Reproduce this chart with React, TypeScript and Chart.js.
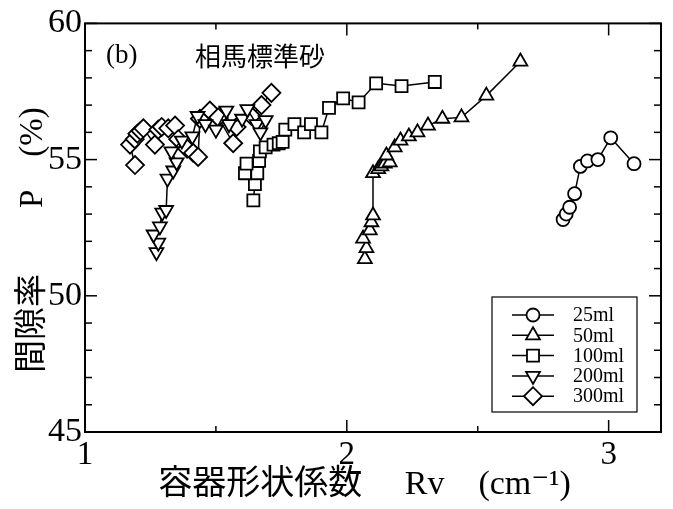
import React, { useEffect, useRef } from 'react';
import { Chart, registerables } from 'chart.js';
import { drawPoint } from 'chart.js/helpers';

Chart.register(...registerables);

const seriesNames = ['25ml', '50ml', '100ml', '200ml', '300ml'];

const x25 = [2.826, 2.838, 2.851, 2.870, 2.892, 2.919, 2.959, 3.008, 3.097];
const y25 = [52.8, 53.0, 53.25, 53.75, 54.75, 54.95, 55.0, 55.8, 54.85];

const x50 = [2.069, 2.075, 2.062, 2.088, 2.094, 2.100, 2.100, 2.120, 2.132, 2.145, 2.164, 2.151, 2.183, 2.205, 2.237, 2.270, 2.310, 2.365, 2.438, 2.533, 2.663];
const y50 = [51.35, 51.75, 52.1, 52.4, 52.7, 52.95, 54.5, 54.65, 54.75, 54.85, 54.9, 55.15, 55.45, 55.7, 55.85, 56.0, 56.25, 56.5, 56.55, 57.35, 58.6];

const x100 = [1.643, 1.649, 1.611, 1.658, 1.617, 1.665, 1.668, 1.69, 1.72, 1.74, 1.755, 1.765, 1.80, 1.837, 1.863, 1.903, 1.932, 1.986, 2.045, 2.112, 2.209, 2.336];
const y100 = [53.5, 54.1, 54.5, 54.5, 54.85, 54.95, 55.3, 55.45, 55.55, 55.6, 55.65, 56.1, 56.3, 56.0, 56.3, 56.0, 56.9, 57.25, 57.1, 57.8, 57.7, 57.85];

const x200 = [1.273, 1.28, 1.262, 1.286, 1.295, 1.31, 1.315, 1.337, 1.35, 1.33, 1.37, 1.41, 1.43, 1.46, 1.50, 1.54, 1.55, 1.60, 1.62, 1.655, 1.69, 1.67];
const y200 = [51.6, 51.95, 52.25, 52.55, 53.05, 53.15, 54.3, 54.6, 54.9, 55.3, 55.7, 55.85, 56.6, 56.3, 56.1, 56.8, 56.3, 56.5, 56.85, 56.3, 56.45, 56.0];

const x300 = [1.191, 1.172, 1.19, 1.20, 1.212, 1.223, 1.267, 1.28, 1.293, 1.318, 1.344, 1.356, 1.39, 1.413, 1.432, 1.439, 1.477, 1.509, 1.566, 1.579, 1.636, 1.674, 1.712];
const y300 = [54.8, 55.55, 55.75, 55.95, 56.05, 56.15, 55.55, 56.1, 56.2, 56.15, 56.25, 55.75, 55.4, 55.25, 55.1, 56.5, 56.8, 56.55, 55.6, 56.2, 56.6, 57.0, 57.45];

const xMajorTicks = [1, 2, 3];
const xMinorTicks = [1.5, 2.5];
const yMajorTicks = [45, 50, 55, 60];
const yMinorTicks = [46, 47, 48, 49, 51, 52, 53, 54, 56, 57, 58, 59];

const xTitle = '容器形状係数\u3000 Rv\u3000(cm\u207B\u00B9)  ';
const yTitle = '間隙率\u3000\u3000P\u3000(%)   ';
const panelLabel = '(b)';
const panelTitle = '相馬標準砂';

const SERIF = "'Liberation Serif', 'DejaVu Serif', 'Noto Sans CJK JP', serif";

const styles = [
  { pointStyle: 'circle', radius: 6.5, rotation: 0 },
  { pointStyle: 'triangle', radius: 8, rotation: 0 },
  { pointStyle: 'rect', radius: 8.5, rotation: 0 },
  { pointStyle: 'triangle', radius: 8, rotation: 180 },
  { pointStyle: 'rectRot', radius: 9, rotation: 0 },
];

const toPts = (xs: number[], ys: number[]) => xs.map((x, i) => ({ x, y: ys[i] }));
const seriesData = [toPts(x25, y25), toPts(x50, y50), toPts(x100, y100), toPts(x200, y200), toPts(x300, y300)];

const framePlugin = {
  id: 'frameTicks',
  beforeDatasetsDraw(chart: any) {
    const { ctx, chartArea, scales } = chart;
    const { left, right, top, bottom } = chartArea;
    const xs = scales.x;
    const ys = scales.y;
    ctx.save();
    ctx.strokeStyle = '#000';
    ctx.lineWidth = 1.5;
    const seg = (a: number, b: number, c: number, d: number) => {
      ctx.beginPath();
      ctx.moveTo(a, b);
      ctx.lineTo(c, d);
      ctx.stroke();
    };
    xMajorTicks.forEach((v) => {
      const p = xs.getPixelForValue(v);
      seg(p, bottom, p, bottom - 12);
      seg(p, top, p, top + 12);
    });
    xMinorTicks.forEach((v) => {
      const p = xs.getPixelForValue(v);
      seg(p, bottom, p, bottom - 6);
      seg(p, top, p, top + 6);
    });
    yMajorTicks.forEach((v) => {
      const p = ys.getPixelForValue(v);
      seg(left, p, left + 12, p);
      seg(right, p, right - 12, p);
    });
    yMinorTicks.forEach((v) => {
      const p = ys.getPixelForValue(v);
      seg(left, p, left + 7, p);
      seg(right, p, right - 7, p);
    });
    ctx.lineWidth = 2;
    ctx.strokeRect(left, top, right - left, bottom - top);
    ctx.restore();
  },
  afterDatasetsDraw(chart: any) {
    const { ctx, chartArea } = chart;
    const { left, top, right, bottom } = chartArea;
    ctx.save();
    ctx.fillStyle = '#000';
    ctx.textBaseline = 'middle';
    ctx.textAlign = 'left';
    ctx.font = `27px ${SERIF}`;
    ctx.fillText(panelLabel, left + 21, top + 33);
    ctx.font = `26px 'Noto Sans CJK JP', sans-serif`;
    ctx.fillText(panelTitle, left + 110, top + 33);

    // legend
    const bw = 145;
    const bh = 115;
    const bx = right - 169;
    const by = bottom - 135;
    ctx.fillStyle = '#fff';
    ctx.fillRect(bx, by, bw, bh);
    ctx.strokeStyle = '#000';
    ctx.lineWidth = 1.2;
    ctx.strokeRect(bx, by, bw, bh);
    const ds = chart.data.datasets;
    ds.forEach((d: any, i: number) => {
      const cy = by + 18 + i * 20.3;
      const mx = bx + 41;
      ctx.strokeStyle = '#000';
      ctx.lineWidth = 1.5;
      ctx.beginPath();
      ctx.moveTo(bx + 20, cy);
      ctx.lineTo(bx + 62, cy);
      ctx.stroke();
      ctx.fillStyle = '#fff';
      ctx.lineWidth = 1.8;
      drawPoint(ctx, { pointStyle: d.pointStyle, rotation: d.pointRotation, radius: d.pointRadius, borderWidth: 1.8 }, mx, cy);
      ctx.fillStyle = '#000';
      ctx.font = `20px ${SERIF}`;
      ctx.textAlign = 'left';
      ctx.textBaseline = 'middle';
      ctx.fillText(d.label, bx + 81, cy + 1);
    });
    ctx.restore();
  },
};

export default function App() {
  const ref = useRef<HTMLCanvasElement | null>(null);
  useEffect(() => {
    if (!ref.current) return;
    const chart = new Chart(ref.current, {
      type: 'scatter',
      data: {
        datasets: seriesNames.map((name, i) => ({
          label: name,
          data: seriesData[i],
          showLine: true,
          borderColor: '#000',
          borderWidth: 1.5,
          tension: 0,
          pointStyle: styles[i].pointStyle as any,
          pointRadius: styles[i].radius,
          pointHoverRadius: styles[i].radius,
          pointRotation: styles[i].rotation,
          pointBackgroundColor: '#fff',
          pointBorderColor: '#000',
          pointBorderWidth: 1.8,
        })),
      },
      options: {
        animation: false,
        responsive: false,
        layout: { padding: { top: 22, right: 12, left: 0, bottom: 0 } },
        plugins: { legend: { display: false }, tooltip: { enabled: false } },
        scales: {
          x: {
            type: 'linear',
            min: 1,
            max: 3.2,
            grid: { display: false, drawTicks: false },
            border: { display: false },
            afterBuildTicks: (s: any) => { s.ticks = xMajorTicks.map((v) => ({ value: v })); },
            afterFit: (s: any) => { s.height = 77; },
            ticks: {
              autoSkip: false,
              maxRotation: 0,
              padding: 4,
              color: '#000',
              font: { family: SERIF, size: 33 },
            },
            title: {
              display: true,
              text: xTitle,
              color: '#000',
              font: { family: SERIF, size: 34 },
              padding: { top: 0, bottom: 4 },
            },
          },
          y: {
            type: 'linear',
            min: 45,
            max: 60,
            grid: { display: false, drawTicks: false },
            border: { display: false },
            afterBuildTicks: (s: any) => { s.ticks = yMajorTicks.map((v) => ({ value: v })); },
            afterFit: (s: any) => { s.width = 85; },
            ticks: {
              autoSkip: false,
              padding: 3,
              color: '#000',
              font: { family: SERIF, size: 34 },
            },
            title: {
              display: true,
              text: yTitle,
              color: '#000',
              font: { family: SERIF, size: 33 },
              padding: { top: 14, bottom: 0 },
            },
          },
        },
      },
      plugins: [framePlugin],
    });
    return () => chart.destroy();
  }, []);
  return (
    <div style={{ position: 'fixed', left: 0, top: 0, width: 673, height: 509, background: '#fff' }}>
      <canvas ref={ref} width={673} height={509} style={{ display: 'block', width: 673, height: 509 }} />
    </div>
  );
}
